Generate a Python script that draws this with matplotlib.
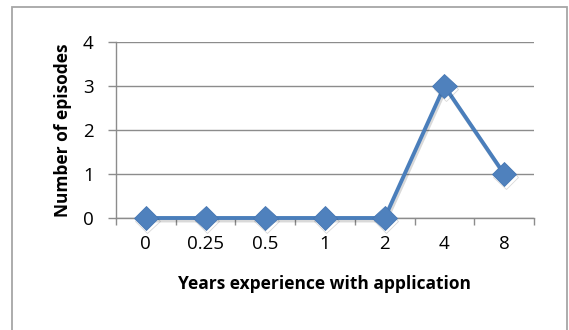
import matplotlib
matplotlib.use("Agg")
import matplotlib.pyplot as plt
import matplotlib.patches as mpatches
import matplotlib.patheffects as pe

categories = ["0", "0.25", "0.5", "1", "2", "4", "8"]
episodes = [0, 0, 0, 0, 0, 3, 1]
y_ticks = [0, 1, 2, 3, 4]

plt.rcParams["font.family"] = ["Open Sans", "DejaVu Sans"]

fig = plt.figure(figsize=(5.69, 3.30), dpi=100)
fig.patch.set_facecolor("white")

# outer chart frame
frame = mpatches.Rectangle((12 / 569, -0.05), (567 - 12) / 569, 1.05 - 7 / 330,
                           transform=fig.transFigure, fill=False,
                           edgecolor="#a6a6a6", linewidth=1.3, clip_on=False)
fig.patches.append(frame)

ax = fig.add_axes([116 / 569, 1 - 218 / 330, (534 - 116) / 569, (218 - 42) / 330])

x = list(range(len(categories)))
line_color = "#4a7ebb"
ax.plot(x, episodes, color=line_color, linewidth=2.8, marker="D", markersize=12.5,
        markerfacecolor="#4f81bd", markeredgecolor="#4677b3", markeredgewidth=0.6,
        solid_joinstyle="miter", clip_on=False, zorder=3,
        path_effects=[pe.SimpleLineShadow(offset=(1.0, -1.8), shadow_color="black", alpha=0.15),
                      pe.Normal()])

ax.set_xlim(-0.5, len(categories) - 0.5)
ax.set_ylim(0, 4)
ax.set_yticks(y_ticks)
ax.set_yticklabels([str(v) for v in y_ticks])

# category tick marks sit on the boundaries between categories
ax.set_xticks([i - 0.5 for i in range(len(categories) + 1)], minor=False)
ax.set_xticklabels([""] * (len(categories) + 1))
ax.set_xticks(x, minor=True)
ax.set_xticklabels(categories, minor=True)
ax.tick_params(axis="x", which="major", direction="out", length=5, width=1, color="#8c8c8c")
ax.tick_params(axis="x", which="minor", length=0, pad=12, labelsize=13.5)
ax.tick_params(axis="y", direction="out", length=6, width=1, color="#8c8c8c", pad=10, labelsize=13.5)

ax.grid(axis="y", color="#8c8c8c", linewidth=1)
ax.set_axisbelow(True)
for side in ["top", "right"]:
    ax.spines[side].set_visible(False)
for side in ["left", "bottom"]:
    ax.spines[side].set_color("#8c8c8c")
    ax.spines[side].set_linewidth(1)

ax.set_xlabel("Years experience with application", fontsize=12.5, fontweight="bold", labelpad=16)
ax.set_ylabel("Number of episodes", fontsize=12.5, fontweight="bold", labelpad=8)

fig.savefig("out.png", dpi=100, facecolor="white")
